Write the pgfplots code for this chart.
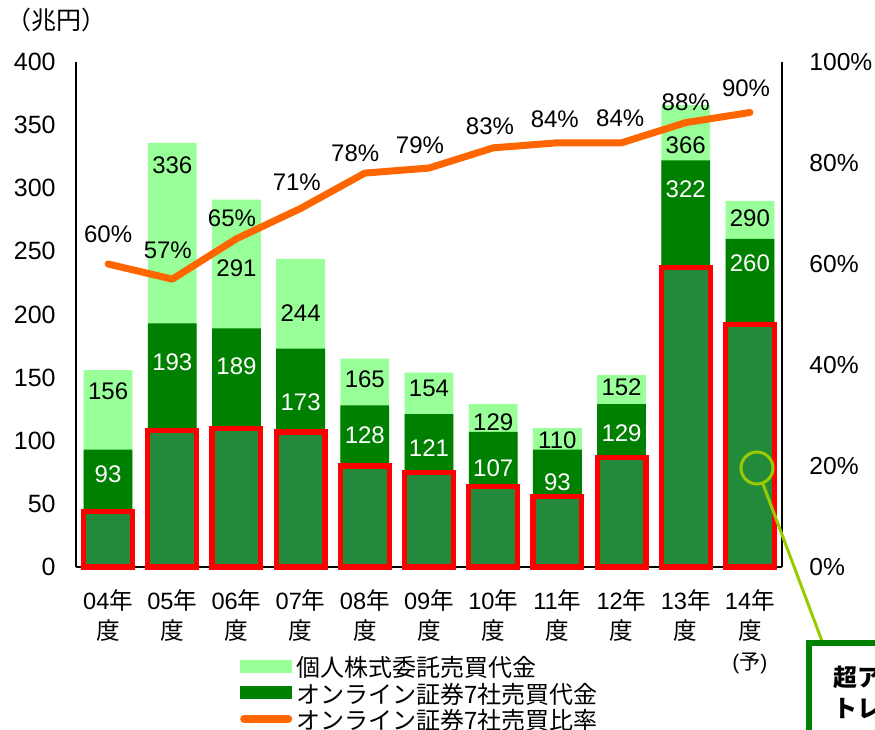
\documentclass[border=0pt]{standalone}
\usepackage{pgfplots}
\pgfplotsset{compat=1.18}
\usepackage{pgfplotstable}
\usepackage{fontspec}
\setmainfont{Liberation Sans}
\newfontfamily\jp{Noto Sans CJK JP}
\newcommand\J[1]{{\jp #1}}
\definecolor{lightg}{HTML}{99FF99}
\definecolor{darkg}{HTML}{008000}
\definecolor{hatchg}{HTML}{228A3A}
\definecolor{redc}{HTML}{FF0000}
\definecolor{orangec}{HTML}{FF6600}
\definecolor{ygreen}{HTML}{99CC00}

\pgfplotstableread{
x v ly
0 156 139.4
1 336 318.4
2 291 236.8
3 244 201.2
4 165 148.9
5 154 141.8
6 129 114.9
7 110 100.6
8 152 142.6
9 366 334.3
10 290 276.4
}\lightT
\pgfplotstableread{
x v ly
0 93 73.7
1 193 162.4
2 189 159.2
3 173 130.7
4 128 104.6
5 121 94.3
6 107 78.4
7 93 67.3
8 129 106.1
9 322 299.4
10 260 240.8
}\darkT
\pgfplotstableread{
x v
0 44
1 108
2 110
3 107
4 80
5 75
6 64
7 56
8 87
9 237
10 192
}\redT
\pgfplotstableread{
x v lx ly
0 60 0 65.9
1 57 0.93 62.8
2 65 1.93 69.1
3 71 2.94 76.2
4 78 3.85 82.0
5 79 4.86 83.6
6 83 5.95 87.3
7 84 6.96 88.7
8 84 7.98 88.9
9 88 9.0 92.1
10 90 9.94 94.9
}\ratioT

\begin{document}
\begin{tikzpicture}
\begin{axis}[
  at={(0,0)}, anchor=south west,
  scale only axis, width=353pt, height=252.5pt,
  xmin=-0.5, xmax=10.5, ymin=0, ymax=400,
  axis y line*=left, axis x line*=bottom,
  axis line style={line width=0.8pt, black},
  major tick length=0pt,
  ytick={0,50,...,400},
  xtick={0,...,10},
  xticklabels={
    {04\J{年}\\\J{度}},{05\J{年}\\\J{度}},{06\J{年}\\\J{度}},{07\J{年}\\\J{度}},
    {08\J{年}\\\J{度}},{09\J{年}\\\J{度}},{10\J{年}\\\J{度}},{11\J{年}\\\J{度}},
    {12\J{年}\\\J{度}},{13\J{年}\\\J{度}},{14\J{年}\\\J{度}\\{\fontsize{10.5}{15}\selectfont(\J{予})}}},
  /pgf/number format/assume math mode=true,
  yticklabel style={font=\fontsize{12.5}{14}\selectfont, inner sep=0pt, xshift=-10pt},
  xticklabel style={font=\fontsize{11.8}{15}\selectfont, inner sep=0pt, yshift=-11pt, align=center, anchor=north},
  clip=false,
  legend cell align=left,
  legend style={draw=none, fill=none, at={(0.232,-0.181)}, anchor=north west, inner sep=0pt,
    font=\jp\fontsize{12}{13}\selectfont, row sep=2.25pt,
    nodes={inner sep=0pt, text height=9pt, text depth=2pt}},
]
\addplot[ybar, bar width=0.76, bar shift=0pt, fill=lightg, draw=none,
  legend image code/.code={\fill[lightg] (0pt,-1.5pt) rectangle (26pt,5pt);}]
  table[x=x, y=v] \lightT;
\addlegendentry{\,個人株式委託売買代金}
\addplot[ybar, bar width=0.76, bar shift=0pt, fill=darkg, draw=none,
  legend image code/.code={\fill[darkg] (0pt,-1.5pt) rectangle (26pt,5pt);}]
  table[x=x, y=v] \darkT;
\addlegendentry{\,オンライン証券7社売買代金}
\addplot[ybar, bar width=0.76, bar shift=0pt, fill=hatchg, draw=redc, line width=2.6pt, forget plot]
  table[x=x, y=v] \redT;
\addplot[draw=none, mark=none, forget plot, point meta=explicit,
  nodes near coords={\pgfmathprintnumber{\pgfplotspointmeta}},
  nodes near coords style={anchor=center, font=\fontsize{12}{14}\selectfont, text=black, inner sep=0pt}]
  table[x=x, y=ly, meta=v] \lightT;
\addplot[draw=none, mark=none, forget plot, point meta=explicit,
  nodes near coords={\pgfmathprintnumber{\pgfplotspointmeta}},
  nodes near coords style={anchor=center, font=\fontsize{12}{14}\selectfont, text=white, inner sep=0pt}]
  table[x=x, y=ly, meta=v] \darkT;
\addlegendimage{legend image code/.code={\draw[orangec, line width=4pt, line cap=round] (2pt,2pt) -- (24pt,2pt);}}
\addlegendentry{\,オンライン証券7社売買比率}
\end{axis}
\begin{axis}[
  at={(0,0)}, anchor=south west,
  scale only axis, width=353pt, height=252.5pt,
  xmin=-0.5, xmax=10.5, ymin=0, ymax=100,
  axis y line*=right, axis x line=none,
  axis line style={line width=0.8pt, black},
  major tick length=0pt,
  ytick={0,20,...,100},
  /pgf/number format/assume math mode=true,
  yticklabel={\pgfmathprintnumber{\tick}\%},
  yticklabel style={font=\fontsize{12.3}{14}\selectfont, inner sep=0pt, xshift=13.5pt, anchor=west},
  clip=false,
]
\addplot[orangec, line width=3.5pt, line cap=round, line join=round, mark=none]
  table[x=x, y=v] \ratioT;
\addplot[draw=none, mark=none, point meta=explicit,
  nodes near coords={\pgfmathprintnumber{\pgfplotspointmeta}\%},
  nodes near coords style={anchor=center, font=\fontsize{12}{14}\selectfont, text=black, inner sep=0pt}]
  table[x=lx, y=ly, meta=v] \ratioT;
\end{axis}
\node[font=\jp\fontsize{12.5}{14}\selectfont, inner sep=0pt] at (-9.75pt,273.5pt) {（兆円）};
\begin{scope}
\clip (-38pt,-81.5pt) rectangle (399.5pt,283.5pt);
\draw[ygreen, line width=1.5pt] (343.3pt,42pt) -- (373pt,-37pt);
\draw[ygreen, line width=1.5pt] (340.5pt,49.5pt) circle (8pt);
\draw[darkg, line width=2.6pt, fill=white] (366.5pt,-38pt) rectangle (480pt,-140pt);
\node[anchor=west, font=\jp\bfseries\fontsize{12}{14}\selectfont, inner sep=0pt] at (378.5pt,-55pt) {超アクティブ};
\node[anchor=west, font=\jp\bfseries\fontsize{12}{14}\selectfont, inner sep=0pt] at (378.5pt,-70.5pt) {トレーダー};
\end{scope}
\pgfresetboundingbox
\useasboundingbox (-38pt,-81.5pt) rectangle (399.5pt,283.5pt);
\end{tikzpicture}
\end{document}
